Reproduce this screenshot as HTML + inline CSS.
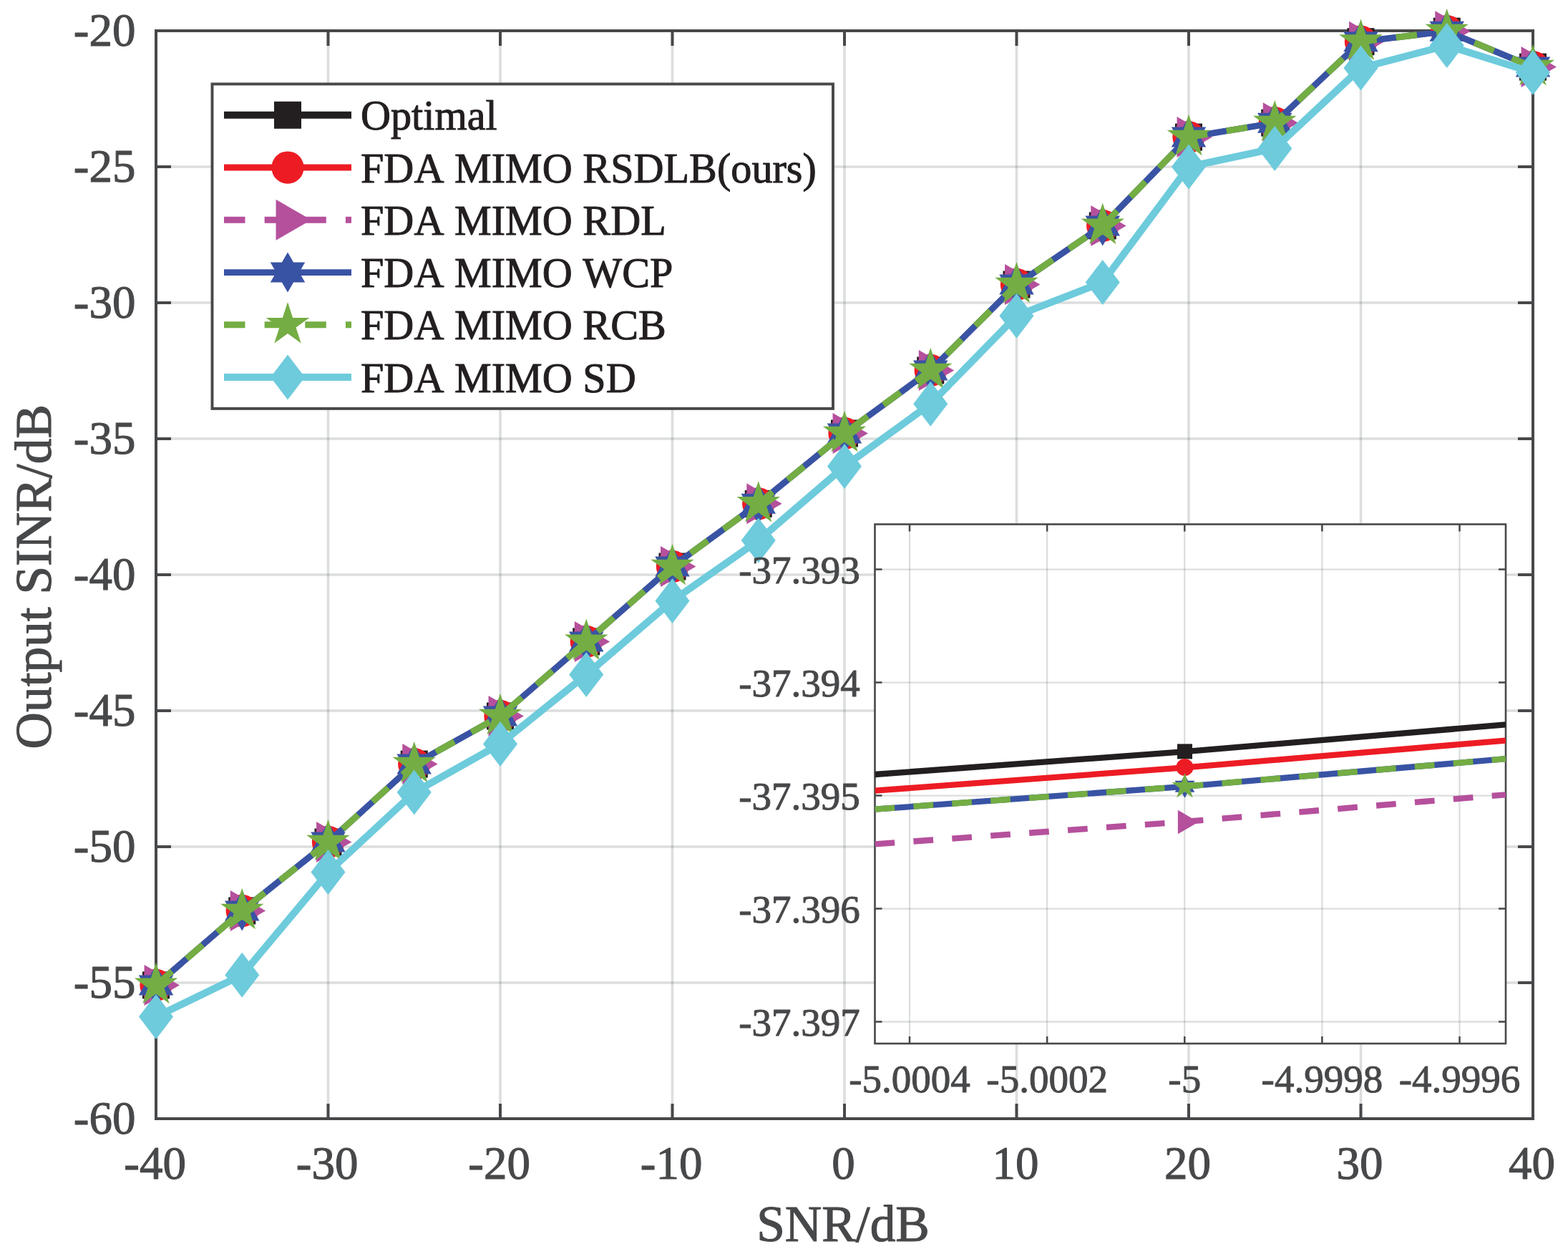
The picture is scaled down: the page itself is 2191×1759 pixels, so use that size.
<!DOCTYPE html>
<html><head><meta charset="utf-8"><title>Output SINR vs SNR</title>
<style>html,body{margin:0;padding:0;background:#fff;}svg{display:block;}text{font-family:"Liberation Serif", "Times New Roman", serif;font-kerning:none;stroke-linejoin:round;}</style></head><body>
<svg width="2191" height="1759" viewBox="0 0 2191 1759">
<rect x="0" y="0" width="2191" height="1759" fill="#fff"/>
<defs>
<clipPath id="cm"><rect x="218" y="43" width="1924" height="1520"/></clipPath>
<clipPath id="ci"><rect x="1222.5" y="732.5" width="881.5" height="725.5"/></clipPath>
</defs>
<path d="M458.5 43V1563M699 43V1563M939.5 43V1563M1180 43V1563M1420.5 43V1563M1661 43V1563M1901.5 43V1563" stroke="#24312a" stroke-opacity="0.16" stroke-width="3.6" fill="none"/>
<path d="M218 233H2142M218 423H2142M218 613H2142M218 803H2142M218 993H2142M218 1183H2142M218 1373H2142" stroke="#24312a" stroke-opacity="0.16" stroke-width="3.6" fill="none"/>
<path d="M218 1563V1542M218 43V64M458.5 1563V1542M458.5 43V64M699 1563V1542M699 43V64M939.5 1563V1542M939.5 43V64M1180 1563V1542M1180 43V64M1420.5 1563V1542M1420.5 43V64M1661 1563V1542M1661 43V64M1901.5 1563V1542M1901.5 43V64M2142 1563V1542M2142 43V64M218 43H239M2142 43H2121M218 233H239M2142 233H2121M218 423H239M2142 423H2121M218 613H239M2142 613H2121M218 803H239M2142 803H2121M218 993H239M2142 993H2121M218 1183H239M2142 1183H2121M218 1373H239M2142 1373H2121M218 1563H239M2142 1563H2121" stroke="#47484a" stroke-width="4" fill="none"/>
<rect x="218" y="43" width="1924" height="1520" stroke="#47484a" stroke-width="4" fill="none"/>
<polyline clip-path="url(#cm)" points="218,1376.4 338.25,1272.5 458.5,1176.5 578.75,1067.6 699,1000.5 819.25,896.4 939.5,791.5 1059.75,703.8 1180,605.5 1300.25,517.5 1420.5,397.5 1540.75,315.4 1661,191.6 1781.25,171.7 1901.5,58.2 2021.75,43.7 2142,93.6" fill="none" stroke="#231f20" stroke-width="7.6" stroke-linejoin="round"/>
<g><rect x="199" y="1357.4" width="38" height="38" fill="#231f20"/><rect x="319.25" y="1253.5" width="38" height="38" fill="#231f20"/><rect x="439.5" y="1157.5" width="38" height="38" fill="#231f20"/><rect x="559.75" y="1048.6" width="38" height="38" fill="#231f20"/><rect x="680" y="981.5" width="38" height="38" fill="#231f20"/><rect x="800.25" y="877.4" width="38" height="38" fill="#231f20"/><rect x="920.5" y="772.5" width="38" height="38" fill="#231f20"/><rect x="1040.75" y="684.8" width="38" height="38" fill="#231f20"/><rect x="1161" y="586.5" width="38" height="38" fill="#231f20"/><rect x="1281.25" y="498.5" width="38" height="38" fill="#231f20"/><rect x="1401.5" y="378.5" width="38" height="38" fill="#231f20"/><rect x="1521.75" y="296.4" width="38" height="38" fill="#231f20"/><rect x="1642" y="172.6" width="38" height="38" fill="#231f20"/><rect x="1762.25" y="152.7" width="38" height="38" fill="#231f20"/><rect x="1882.5" y="39.2" width="38" height="38" fill="#231f20"/><rect x="2002.75" y="24.7" width="38" height="38" fill="#231f20"/><rect x="2123" y="74.6" width="38" height="38" fill="#231f20"/></g>
<polyline clip-path="url(#cm)" points="218,1376.4 338.25,1272.5 458.5,1176.5 578.75,1067.6 699,1000.5 819.25,896.4 939.5,791.5 1059.75,703.8 1180,605.5 1300.25,517.5 1420.5,397.5 1540.75,315.4 1661,191.6 1781.25,171.7 1901.5,58.2 2021.75,43.7 2142,93.6" fill="none" stroke="#ed1c24" stroke-width="7.6" stroke-linejoin="round"/>
<g><circle cx="218" cy="1376.4" r="22.65" fill="#ed1c24"/><circle cx="338.25" cy="1272.5" r="22.65" fill="#ed1c24"/><circle cx="458.5" cy="1176.5" r="22.65" fill="#ed1c24"/><circle cx="578.75" cy="1067.6" r="22.65" fill="#ed1c24"/><circle cx="699" cy="1000.5" r="22.65" fill="#ed1c24"/><circle cx="819.25" cy="896.4" r="22.65" fill="#ed1c24"/><circle cx="939.5" cy="791.5" r="22.65" fill="#ed1c24"/><circle cx="1059.75" cy="703.8" r="22.65" fill="#ed1c24"/><circle cx="1180" cy="605.5" r="22.65" fill="#ed1c24"/><circle cx="1300.25" cy="517.5" r="22.65" fill="#ed1c24"/><circle cx="1420.5" cy="397.5" r="22.65" fill="#ed1c24"/><circle cx="1540.75" cy="315.4" r="22.65" fill="#ed1c24"/><circle cx="1661" cy="191.6" r="22.65" fill="#ed1c24"/><circle cx="1781.25" cy="171.7" r="22.65" fill="#ed1c24"/><circle cx="1901.5" cy="58.2" r="22.65" fill="#ed1c24"/><circle cx="2021.75" cy="43.7" r="22.65" fill="#ed1c24"/><circle cx="2142" cy="93.6" r="22.65" fill="#ed1c24"/></g>
<polyline clip-path="url(#cm)" points="218,1376.4 338.25,1272.5 458.5,1176.5 578.75,1067.6 699,1000.5 819.25,896.4 939.5,791.5 1059.75,703.8 1180,605.5 1300.25,517.5 1420.5,397.5 1540.75,315.4 1661,191.6 1781.25,171.7 1901.5,58.2 2021.75,43.7 2142,93.6" fill="none" stroke="#b5509c" stroke-width="7.6" stroke-linejoin="round" stroke-dasharray="29.5 27.15"/>
<g><polygon points="201.55,1347.9 250.91,1376.4 201.55,1404.9" fill="#b5509c"/><polygon points="321.8,1244 371.16,1272.5 321.8,1301" fill="#b5509c"/><polygon points="442.05,1148 491.41,1176.5 442.05,1205" fill="#b5509c"/><polygon points="562.3,1039.1 611.66,1067.6 562.3,1096.1" fill="#b5509c"/><polygon points="682.55,972 731.91,1000.5 682.55,1029" fill="#b5509c"/><polygon points="802.8,867.9 852.16,896.4 802.8,924.9" fill="#b5509c"/><polygon points="923.05,763 972.41,791.5 923.05,820" fill="#b5509c"/><polygon points="1043.3,675.3 1092.66,703.8 1043.3,732.3" fill="#b5509c"/><polygon points="1163.55,577 1212.91,605.5 1163.55,634" fill="#b5509c"/><polygon points="1283.8,489 1333.16,517.5 1283.8,546" fill="#b5509c"/><polygon points="1404.05,369 1453.41,397.5 1404.05,426" fill="#b5509c"/><polygon points="1524.3,286.9 1573.66,315.4 1524.3,343.9" fill="#b5509c"/><polygon points="1644.55,163.1 1693.91,191.6 1644.55,220.1" fill="#b5509c"/><polygon points="1764.8,143.2 1814.16,171.7 1764.8,200.2" fill="#b5509c"/><polygon points="1885.05,29.7 1934.41,58.2 1885.05,86.7" fill="#b5509c"/><polygon points="2005.3,15.2 2054.66,43.7 2005.3,72.2" fill="#b5509c"/><polygon points="2125.55,65.1 2174.91,93.6 2125.55,122.1" fill="#b5509c"/></g>
<polyline clip-path="url(#cm)" points="218,1376.4 338.25,1272.5 458.5,1176.5 578.75,1067.6 699,1000.5 819.25,896.4 939.5,791.5 1059.75,703.8 1180,605.5 1300.25,517.5 1420.5,397.5 1540.75,315.4 1661,191.6 1781.25,171.7 1901.5,58.2 2021.75,43.7 2142,93.6" fill="none" stroke="#3953a4" stroke-width="8.8" stroke-linejoin="round"/>
<g><polygon points="218,1348.4 226.08,1362.4 242.25,1362.4 234.17,1376.4 242.25,1390.4 226.08,1390.4 218,1404.4 209.92,1390.4 193.75,1390.4 201.83,1376.4 193.75,1362.4 209.92,1362.4" fill="#3953a4"/><polygon points="338.25,1244.5 346.33,1258.5 362.5,1258.5 354.42,1272.5 362.5,1286.5 346.33,1286.5 338.25,1300.5 330.17,1286.5 314,1286.5 322.08,1272.5 314,1258.5 330.17,1258.5" fill="#3953a4"/><polygon points="458.5,1148.5 466.58,1162.5 482.75,1162.5 474.67,1176.5 482.75,1190.5 466.58,1190.5 458.5,1204.5 450.42,1190.5 434.25,1190.5 442.33,1176.5 434.25,1162.5 450.42,1162.5" fill="#3953a4"/><polygon points="578.75,1039.6 586.83,1053.6 603,1053.6 594.92,1067.6 603,1081.6 586.83,1081.6 578.75,1095.6 570.67,1081.6 554.5,1081.6 562.58,1067.6 554.5,1053.6 570.67,1053.6" fill="#3953a4"/><polygon points="699,972.5 707.08,986.5 723.25,986.5 715.17,1000.5 723.25,1014.5 707.08,1014.5 699,1028.5 690.92,1014.5 674.75,1014.5 682.83,1000.5 674.75,986.5 690.92,986.5" fill="#3953a4"/><polygon points="819.25,868.4 827.33,882.4 843.5,882.4 835.42,896.4 843.5,910.4 827.33,910.4 819.25,924.4 811.17,910.4 795,910.4 803.08,896.4 795,882.4 811.17,882.4" fill="#3953a4"/><polygon points="939.5,763.5 947.58,777.5 963.75,777.5 955.67,791.5 963.75,805.5 947.58,805.5 939.5,819.5 931.42,805.5 915.25,805.5 923.33,791.5 915.25,777.5 931.42,777.5" fill="#3953a4"/><polygon points="1059.75,675.8 1067.83,689.8 1084,689.8 1075.92,703.8 1084,717.8 1067.83,717.8 1059.75,731.8 1051.67,717.8 1035.5,717.8 1043.58,703.8 1035.5,689.8 1051.67,689.8" fill="#3953a4"/><polygon points="1180,577.5 1188.08,591.5 1204.25,591.5 1196.17,605.5 1204.25,619.5 1188.08,619.5 1180,633.5 1171.92,619.5 1155.75,619.5 1163.83,605.5 1155.75,591.5 1171.92,591.5" fill="#3953a4"/><polygon points="1300.25,489.5 1308.33,503.5 1324.5,503.5 1316.42,517.5 1324.5,531.5 1308.33,531.5 1300.25,545.5 1292.17,531.5 1276,531.5 1284.08,517.5 1276,503.5 1292.17,503.5" fill="#3953a4"/><polygon points="1420.5,369.5 1428.58,383.5 1444.75,383.5 1436.67,397.5 1444.75,411.5 1428.58,411.5 1420.5,425.5 1412.42,411.5 1396.25,411.5 1404.33,397.5 1396.25,383.5 1412.42,383.5" fill="#3953a4"/><polygon points="1540.75,287.4 1548.83,301.4 1565,301.4 1556.92,315.4 1565,329.4 1548.83,329.4 1540.75,343.4 1532.67,329.4 1516.5,329.4 1524.58,315.4 1516.5,301.4 1532.67,301.4" fill="#3953a4"/><polygon points="1661,163.6 1669.08,177.6 1685.25,177.6 1677.17,191.6 1685.25,205.6 1669.08,205.6 1661,219.6 1652.92,205.6 1636.75,205.6 1644.83,191.6 1636.75,177.6 1652.92,177.6" fill="#3953a4"/><polygon points="1781.25,143.7 1789.33,157.7 1805.5,157.7 1797.42,171.7 1805.5,185.7 1789.33,185.7 1781.25,199.7 1773.17,185.7 1757,185.7 1765.08,171.7 1757,157.7 1773.17,157.7" fill="#3953a4"/><polygon points="1901.5,30.2 1909.58,44.2 1925.75,44.2 1917.67,58.2 1925.75,72.2 1909.58,72.2 1901.5,86.2 1893.42,72.2 1877.25,72.2 1885.33,58.2 1877.25,44.2 1893.42,44.2" fill="#3953a4"/><polygon points="2021.75,15.7 2029.83,29.7 2046,29.7 2037.92,43.7 2046,57.7 2029.83,57.7 2021.75,71.7 2013.67,57.7 1997.5,57.7 2005.58,43.7 1997.5,29.7 2013.67,29.7" fill="#3953a4"/><polygon points="2142,65.6 2150.08,79.6 2166.25,79.6 2158.17,93.6 2166.25,107.6 2150.08,107.6 2142,121.6 2133.92,107.6 2117.75,107.6 2125.83,93.6 2117.75,79.6 2133.92,79.6" fill="#3953a4"/></g>
<polyline clip-path="url(#cm)" points="218,1376.4 338.25,1272.5 458.5,1176.5 578.75,1067.6 699,1000.5 819.25,896.4 939.5,791.5 1059.75,703.8 1180,605.5 1300.25,517.5 1420.5,397.5 1540.75,315.4 1661,191.6 1781.25,171.7 1901.5,58.2 2021.75,43.7 2142,93.6" fill="none" stroke="#74ad43" stroke-width="8.9" stroke-linejoin="round" stroke-dasharray="29.5 27.15"/>
<g><polygon points="218,1344.6 225.14,1366.57 248.24,1366.57 229.55,1380.15 236.69,1402.13 218,1388.55 199.31,1402.13 206.45,1380.15 187.76,1366.57 210.86,1366.57" fill="#74ad43"/><polygon points="338.25,1240.7 345.39,1262.67 368.49,1262.67 349.8,1276.25 356.94,1298.23 338.25,1284.65 319.56,1298.23 326.7,1276.25 308.01,1262.67 331.11,1262.67" fill="#74ad43"/><polygon points="458.5,1144.7 465.64,1166.67 488.74,1166.67 470.05,1180.25 477.19,1202.23 458.5,1188.65 439.81,1202.23 446.95,1180.25 428.26,1166.67 451.36,1166.67" fill="#74ad43"/><polygon points="578.75,1035.8 585.89,1057.77 608.99,1057.77 590.3,1071.35 597.44,1093.33 578.75,1079.75 560.06,1093.33 567.2,1071.35 548.51,1057.77 571.61,1057.77" fill="#74ad43"/><polygon points="699,968.7 706.14,990.67 729.24,990.67 710.55,1004.25 717.69,1026.23 699,1012.65 680.31,1026.23 687.45,1004.25 668.76,990.67 691.86,990.67" fill="#74ad43"/><polygon points="819.25,864.6 826.39,886.57 849.49,886.57 830.8,900.15 837.94,922.13 819.25,908.55 800.56,922.13 807.7,900.15 789.01,886.57 812.11,886.57" fill="#74ad43"/><polygon points="939.5,759.7 946.64,781.67 969.74,781.67 951.05,795.25 958.19,817.23 939.5,803.65 920.81,817.23 927.95,795.25 909.26,781.67 932.36,781.67" fill="#74ad43"/><polygon points="1059.75,672 1066.89,693.97 1089.99,693.97 1071.3,707.55 1078.44,729.53 1059.75,715.95 1041.06,729.53 1048.2,707.55 1029.51,693.97 1052.61,693.97" fill="#74ad43"/><polygon points="1180,573.7 1187.14,595.67 1210.24,595.67 1191.55,609.25 1198.69,631.23 1180,617.65 1161.31,631.23 1168.45,609.25 1149.76,595.67 1172.86,595.67" fill="#74ad43"/><polygon points="1300.25,485.7 1307.39,507.67 1330.49,507.67 1311.8,521.25 1318.94,543.23 1300.25,529.65 1281.56,543.23 1288.7,521.25 1270.01,507.67 1293.11,507.67" fill="#74ad43"/><polygon points="1420.5,365.7 1427.64,387.67 1450.74,387.67 1432.05,401.25 1439.19,423.23 1420.5,409.65 1401.81,423.23 1408.95,401.25 1390.26,387.67 1413.36,387.67" fill="#74ad43"/><polygon points="1540.75,283.6 1547.89,305.57 1570.99,305.57 1552.3,319.15 1559.44,341.13 1540.75,327.55 1522.06,341.13 1529.2,319.15 1510.51,305.57 1533.61,305.57" fill="#74ad43"/><polygon points="1661,159.8 1668.14,181.77 1691.24,181.77 1672.55,195.35 1679.69,217.33 1661,203.75 1642.31,217.33 1649.45,195.35 1630.76,181.77 1653.86,181.77" fill="#74ad43"/><polygon points="1781.25,139.9 1788.39,161.87 1811.49,161.87 1792.8,175.45 1799.94,197.43 1781.25,183.85 1762.56,197.43 1769.7,175.45 1751.01,161.87 1774.11,161.87" fill="#74ad43"/><polygon points="1901.5,26.4 1908.64,48.37 1931.74,48.37 1913.05,61.95 1920.19,83.93 1901.5,70.35 1882.81,83.93 1889.95,61.95 1871.26,48.37 1894.36,48.37" fill="#74ad43"/><polygon points="2021.75,11.9 2028.89,33.87 2051.99,33.87 2033.3,47.45 2040.44,69.43 2021.75,55.85 2003.06,69.43 2010.2,47.45 1991.51,33.87 2014.61,33.87" fill="#74ad43"/><polygon points="2142,61.8 2149.14,83.77 2172.24,83.77 2153.55,97.35 2160.69,119.33 2142,105.75 2123.31,119.33 2130.45,97.35 2111.76,83.77 2134.86,83.77" fill="#74ad43"/></g>
<polyline clip-path="url(#cm)" points="218,1420.5 338.25,1362.3 458.5,1218.6 578.75,1107.1 699,1039.4 819.25,942.6 939.5,839.4 1059.75,755.1 1180,651.6 1300.25,564.3 1420.5,441.2 1540.75,394.5 1661,233 1781.25,207.4 1901.5,95 2021.75,63.5 2142,101.3" fill="none" stroke="#6dcbdc" stroke-width="10" stroke-linejoin="round"/>
<g><polygon points="218,1389 242,1420.5 218,1452 194,1420.5" fill="#6dcbdc"/><polygon points="338.25,1330.8 362.25,1362.3 338.25,1393.8 314.25,1362.3" fill="#6dcbdc"/><polygon points="458.5,1187.1 482.5,1218.6 458.5,1250.1 434.5,1218.6" fill="#6dcbdc"/><polygon points="578.75,1075.6 602.75,1107.1 578.75,1138.6 554.75,1107.1" fill="#6dcbdc"/><polygon points="699,1007.9 723,1039.4 699,1070.9 675,1039.4" fill="#6dcbdc"/><polygon points="819.25,911.1 843.25,942.6 819.25,974.1 795.25,942.6" fill="#6dcbdc"/><polygon points="939.5,807.9 963.5,839.4 939.5,870.9 915.5,839.4" fill="#6dcbdc"/><polygon points="1059.75,723.6 1083.75,755.1 1059.75,786.6 1035.75,755.1" fill="#6dcbdc"/><polygon points="1180,620.1 1204,651.6 1180,683.1 1156,651.6" fill="#6dcbdc"/><polygon points="1300.25,532.8 1324.25,564.3 1300.25,595.8 1276.25,564.3" fill="#6dcbdc"/><polygon points="1420.5,409.7 1444.5,441.2 1420.5,472.7 1396.5,441.2" fill="#6dcbdc"/><polygon points="1540.75,363 1564.75,394.5 1540.75,426 1516.75,394.5" fill="#6dcbdc"/><polygon points="1661,201.5 1685,233 1661,264.5 1637,233" fill="#6dcbdc"/><polygon points="1781.25,175.9 1805.25,207.4 1781.25,238.9 1757.25,207.4" fill="#6dcbdc"/><polygon points="1901.5,63.5 1925.5,95 1901.5,126.5 1877.5,95" fill="#6dcbdc"/><polygon points="2021.75,32 2045.75,63.5 2021.75,95 1997.75,63.5" fill="#6dcbdc"/><polygon points="2142,69.8 2166,101.3 2142,132.8 2118,101.3" fill="#6dcbdc"/></g>
<rect x="296.5" y="117.4" width="867.5" height="453.5" fill="#fff" stroke="#47484a" stroke-width="3.9"/>
<line x1="313" y1="160.8" x2="491" y2="160.8" stroke="#231f20" stroke-width="9.9"/>
<rect x="383" y="141.8" width="38" height="38" fill="#231f20"/>
<text x="504" y="181.45" font-size="58.2" fill="#231f20" stroke="#231f20" stroke-width="1">Optimal</text>
<line x1="313" y1="234.05" x2="491" y2="234.05" stroke="#ed1c24" stroke-width="9"/>
<circle cx="402" cy="234.05" r="22.65" fill="#ed1c24"/>
<text x="504" y="254.7" font-size="58.2" fill="#231f20" stroke="#231f20" stroke-width="1">FDA MIMO RSDLB(ours)</text>
<line x1="313" y1="307.3" x2="491" y2="307.3" stroke="#b5509c" stroke-width="8.9" stroke-dasharray="29.5 27.15"/>
<polygon points="385.55,278.8 434.91,307.3 385.55,335.8" fill="#b5509c"/>
<text x="504" y="327.95" font-size="58.2" fill="#231f20" stroke="#231f20" stroke-width="1">FDA MIMO RDL</text>
<line x1="313" y1="380.55" x2="491" y2="380.55" stroke="#3953a4" stroke-width="8.8"/>
<polygon points="402,352.55 410.08,366.55 426.25,366.55 418.17,380.55 426.25,394.55 410.08,394.55 402,408.55 393.92,394.55 377.75,394.55 385.83,380.55 377.75,366.55 393.92,366.55" fill="#3953a4"/>
<text x="504" y="401.2" font-size="58.2" fill="#231f20" stroke="#231f20" stroke-width="1">FDA MIMO WCP</text>
<line x1="313" y1="453.8" x2="491" y2="453.8" stroke="#74ad43" stroke-width="8.9" stroke-dasharray="29.5 27.15"/>
<polygon points="402,422 409.14,443.97 432.24,443.97 413.55,457.55 420.69,479.53 402,465.95 383.31,479.53 390.45,457.55 371.76,443.97 394.86,443.97" fill="#74ad43"/>
<text x="504" y="474.45" font-size="58.2" fill="#231f20" stroke="#231f20" stroke-width="1">FDA MIMO RCB</text>
<line x1="313" y1="527.05" x2="491" y2="527.05" stroke="#6dcbdc" stroke-width="10"/>
<polygon points="402,495.55 426,527.05 402,558.55 378,527.05" fill="#6dcbdc"/>
<text x="504" y="547.7" font-size="58.2" fill="#231f20" stroke="#231f20" stroke-width="1">FDA MIMO SD</text>
<rect x="1222.5" y="732.5" width="881.5" height="725.5" fill="#fff"/>
<path d="M1271 732.5V1458M1463.12 732.5V1458M1655.25 732.5V1458M1847.38 732.5V1458M2039.5 732.5V1458" stroke="#24312a" stroke-opacity="0.16" stroke-width="2.3" fill="none"/>
<path d="M1222.5 795.6H2104M1222.5 953.58H2104M1222.5 1111.55H2104M1222.5 1269.53H2104M1222.5 1427.5H2104" stroke="#24312a" stroke-opacity="0.16" stroke-width="2.3" fill="none"/>
<path d="M1271 1458V1448M1271 732.5V742.5M1463.12 1458V1448M1463.12 732.5V742.5M1655.25 1458V1448M1655.25 732.5V742.5M1847.38 1458V1448M1847.38 732.5V742.5M2039.5 1458V1448M2039.5 732.5V742.5M1222.5 795.6H1232.5M2104 795.6H2094M1222.5 953.58H1232.5M2104 953.58H2094M1222.5 1111.55H1232.5M2104 1111.55H2094M1222.5 1269.53H1232.5M2104 1269.53H2094M1222.5 1427.5H1232.5M2104 1427.5H2094" stroke="#47484a" stroke-width="2.5" fill="none"/>
<rect x="1222.5" y="732.5" width="881.5" height="725.5" stroke="#47484a" stroke-width="2.6" fill="none"/>
<polyline clip-path="url(#ci)" points="1222.5,1082 1655.5,1050.2 2104,1012.3" fill="none" stroke="#231f20" stroke-width="8.3"/>
<rect x="1645" y="1039.4" width="21" height="21" fill="#231f20"/>
<polyline clip-path="url(#ci)" points="1222.5,1104.7 1655.5,1072.4 2104,1034.6" fill="none" stroke="#ed1c24" stroke-width="8.3"/>
<circle cx="1655.5" cy="1072" r="12.1" fill="#ed1c24"/>
<polyline clip-path="url(#ci)" points="1222.5,1179.4 1655.5,1148 2104,1110.3" fill="none" stroke="#b5509c" stroke-width="8.3" stroke-dasharray="27.7 26.35"/>
<polygon points="1645.89,1131.85 1674.73,1148.5 1645.89,1165.15" fill="#b5509c"/>
<polyline clip-path="url(#ci)" points="1222.5,1130.7 1655.5,1098.8 2104,1060.2" fill="none" stroke="#3953a4" stroke-width="8.3"/>
<polygon points="1655.5,1082.8 1660.12,1090.8 1669.36,1090.8 1664.74,1098.8 1669.36,1106.8 1660.12,1106.8 1655.5,1114.8 1650.88,1106.8 1641.64,1106.8 1646.26,1098.8 1641.64,1090.8 1650.88,1090.8" fill="#3953a4"/>
<polyline clip-path="url(#ci)" points="1222.5,1130.7 1655.5,1098.8 2104,1060.2" fill="none" stroke="#74ad43" stroke-width="8.3" stroke-dasharray="27.7 26.35"/>
<polygon points="1655.5,1079.8 1659.81,1093.07 1673.76,1093.07 1662.47,1101.27 1666.79,1114.53 1655.5,1106.33 1644.21,1114.53 1648.53,1101.27 1637.24,1093.07 1651.19,1093.07" fill="#74ad43"/>
<text x="1271" y="1526" font-size="55" fill="#47484a" stroke="#47484a" stroke-width="1" text-anchor="middle">-5.0004</text>
<text x="1463.12" y="1526" font-size="55" fill="#47484a" stroke="#47484a" stroke-width="1" text-anchor="middle">-5.0002</text>
<text x="1655.25" y="1526" font-size="55" fill="#47484a" stroke="#47484a" stroke-width="1" text-anchor="middle">-5</text>
<text x="1847.38" y="1526" font-size="55" fill="#47484a" stroke="#47484a" stroke-width="1" text-anchor="middle">-4.9998</text>
<text x="2039.5" y="1526" font-size="55" fill="#47484a" stroke="#47484a" stroke-width="1" text-anchor="middle">-4.9996</text>
<text x="1201.8" y="815.3" font-size="55" fill="#47484a" stroke="#47484a" stroke-width="1" text-anchor="end">-37.393</text>
<text x="1201.8" y="973.28" font-size="55" fill="#47484a" stroke="#47484a" stroke-width="1" text-anchor="end">-37.394</text>
<text x="1201.8" y="1131.25" font-size="55" fill="#47484a" stroke="#47484a" stroke-width="1" text-anchor="end">-37.395</text>
<text x="1201.8" y="1289.23" font-size="55" fill="#47484a" stroke="#47484a" stroke-width="1" text-anchor="end">-37.396</text>
<text x="1201.8" y="1447.2" font-size="55" fill="#47484a" stroke="#47484a" stroke-width="1" text-anchor="end">-37.397</text>
<text x="216.6" y="1647" font-size="65" fill="#47484a" stroke="#47484a" stroke-width="1.1" text-anchor="middle">-40</text>
<text x="457.1" y="1647" font-size="65" fill="#47484a" stroke="#47484a" stroke-width="1.1" text-anchor="middle">-30</text>
<text x="697.6" y="1647" font-size="65" fill="#47484a" stroke="#47484a" stroke-width="1.1" text-anchor="middle">-20</text>
<text x="938.1" y="1647" font-size="65" fill="#47484a" stroke="#47484a" stroke-width="1.1" text-anchor="middle">-10</text>
<text x="1178.6" y="1647" font-size="65" fill="#47484a" stroke="#47484a" stroke-width="1.1" text-anchor="middle">0</text>
<text x="1419.1" y="1647" font-size="65" fill="#47484a" stroke="#47484a" stroke-width="1.1" text-anchor="middle">10</text>
<text x="1659.6" y="1647" font-size="65" fill="#47484a" stroke="#47484a" stroke-width="1.1" text-anchor="middle">20</text>
<text x="1900.1" y="1647" font-size="65" fill="#47484a" stroke="#47484a" stroke-width="1.1" text-anchor="middle">30</text>
<text x="2140.6" y="1647" font-size="65" fill="#47484a" stroke="#47484a" stroke-width="1.1" text-anchor="middle">40</text>
<text x="189.5" y="63.5" font-size="65" fill="#47484a" stroke="#47484a" stroke-width="1.1" text-anchor="end">-20</text>
<text x="189.5" y="253.5" font-size="65" fill="#47484a" stroke="#47484a" stroke-width="1.1" text-anchor="end">-25</text>
<text x="189.5" y="443.5" font-size="65" fill="#47484a" stroke="#47484a" stroke-width="1.1" text-anchor="end">-30</text>
<text x="189.5" y="633.5" font-size="65" fill="#47484a" stroke="#47484a" stroke-width="1.1" text-anchor="end">-35</text>
<text x="189.5" y="823.5" font-size="65" fill="#47484a" stroke="#47484a" stroke-width="1.1" text-anchor="end">-40</text>
<text x="189.5" y="1013.5" font-size="65" fill="#47484a" stroke="#47484a" stroke-width="1.1" text-anchor="end">-45</text>
<text x="189.5" y="1203.5" font-size="65" fill="#47484a" stroke="#47484a" stroke-width="1.1" text-anchor="end">-50</text>
<text x="189.5" y="1393.5" font-size="65" fill="#47484a" stroke="#47484a" stroke-width="1.1" text-anchor="end">-55</text>
<text x="189.5" y="1583.5" font-size="65" fill="#47484a" stroke="#47484a" stroke-width="1.1" text-anchor="end">-60</text>
<text x="1178" y="1734.3" font-size="71.3" fill="#47484a" stroke="#47484a" stroke-width="1.1" text-anchor="middle">SNR/dB</text>
<text x="0" y="0" font-size="71.3" fill="#47484a" stroke="#47484a" stroke-width="1.1" text-anchor="middle" transform="translate(70.7 805.8) rotate(-90)">Output SINR/dB</text>
</svg></body></html>
